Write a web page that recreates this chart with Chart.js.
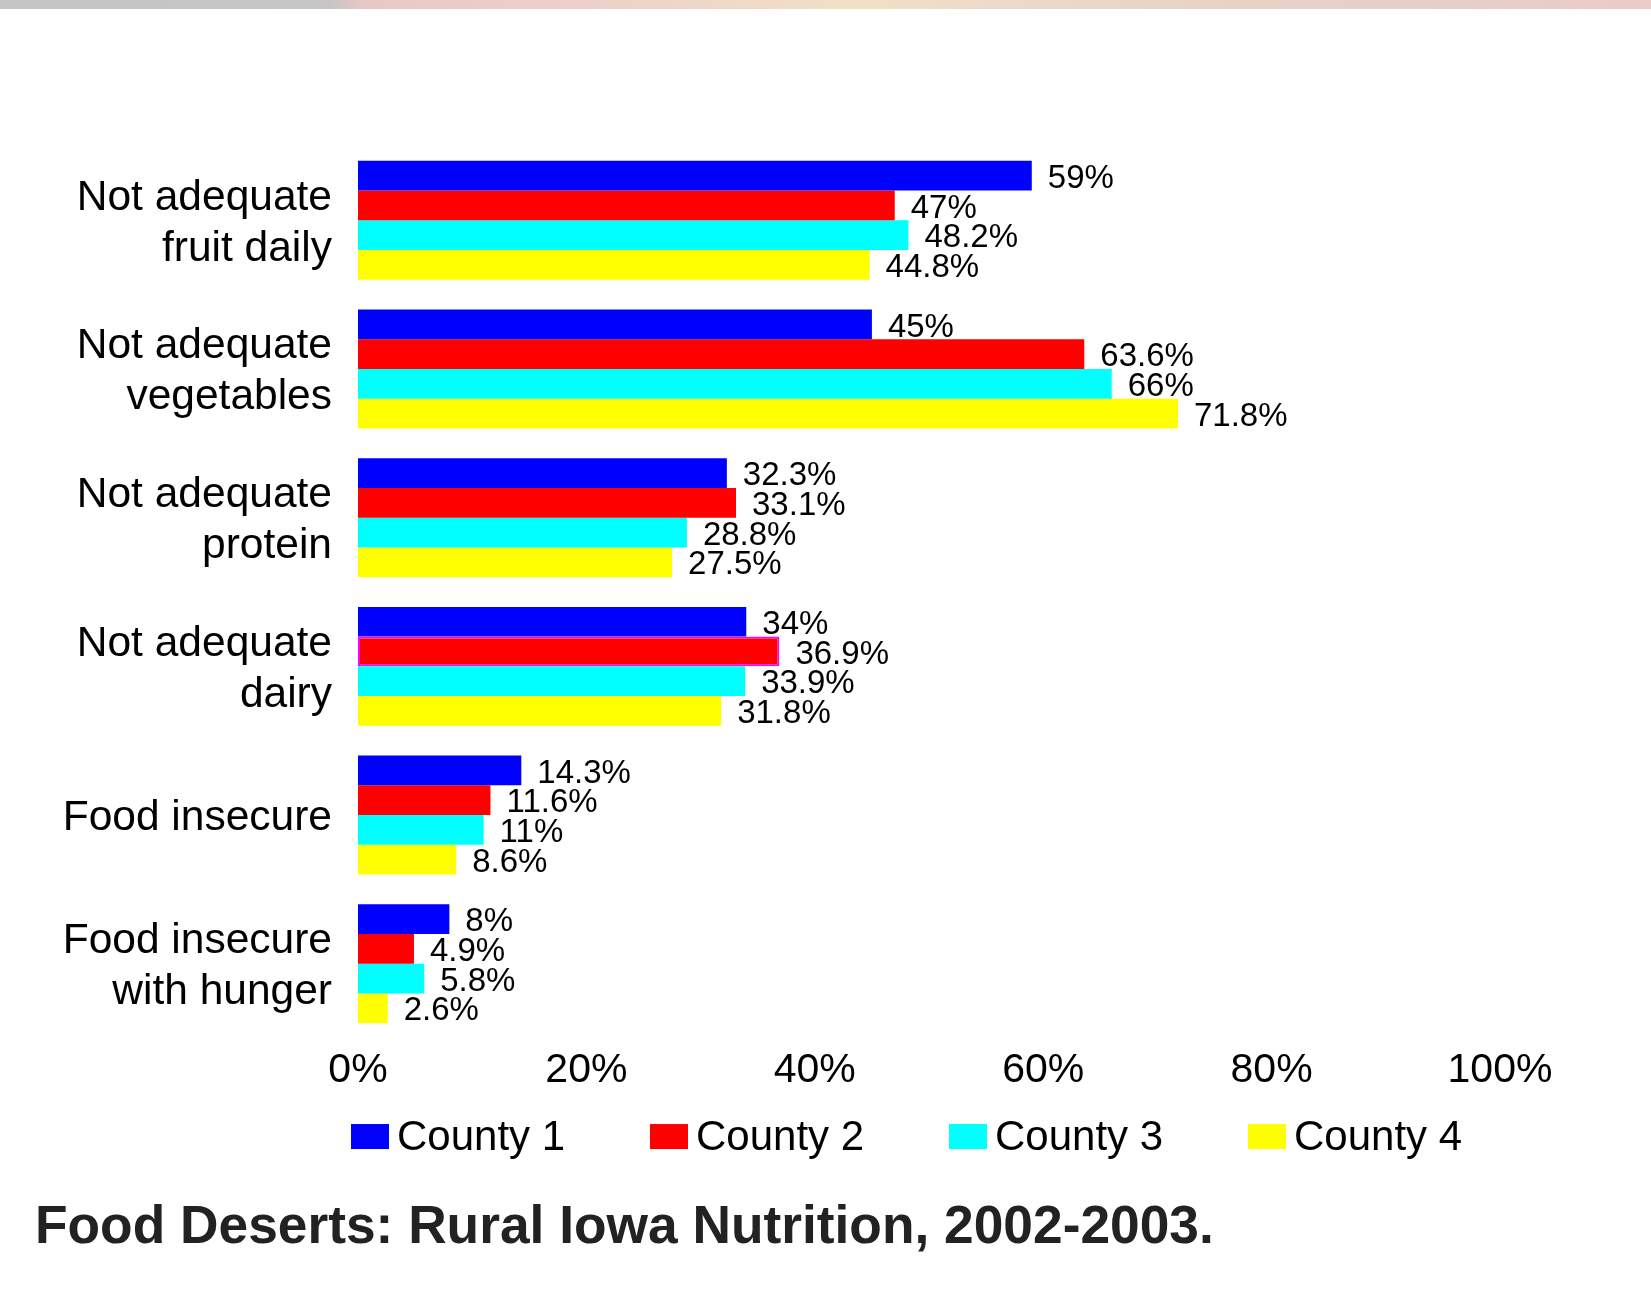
<!DOCTYPE html>
<html>
<head>
<meta charset="utf-8">
<style>
html,body{margin:0;padding:0;background:#ffffff;}
#wrap{position:relative;width:1651px;height:1289px;overflow:hidden;}
#strip{position:absolute;left:0;top:0;width:1651px;height:9px;
background:linear-gradient(to right,#c5c5c5 0%,#c7c6c5 20%,#e8c8c4 22%,#eed3c9 38%,#f1e0c6 52%,#ecd9cb 62%,#e8d2c6 75%,#e6cfc6 88%,#ebccc6 100%);}
canvas{position:absolute;left:0;top:0;}
</style>
<script src="https://cdn.jsdelivr.net/npm/chart.js@4.4.1/dist/chart.umd.min.js"></script>
</head>
<body>
<div id="wrap"><div id="strip"></div><canvas id="c" width="1651" height="1289"></canvas></div>
<script>
const categories = [
  ["Not adequate", "fruit daily"],
  ["Not adequate", "vegetables"],
  ["Not adequate", "protein"],
  ["Not adequate", "dairy"],
  "Food insecure",
  ["Food insecure", "with hunger"]
];
const seriesNames = ["County 1", "County 2", "County 3", "County 4"];
const county1 = [59, 45, 32.3, 34, 14.3, 8];
const county2 = [47, 63.6, 33.1, 36.9, 11.6, 4.9];
const county3 = [48.2, 66, 28.8, 33.9, 11, 5.8];
const county4 = [44.8, 71.8, 27.5, 31.8, 8.6, 2.6];
const xTickValues = [0, 20, 40, 60, 80, 100];
const titleText = "Food Deserts: Rural Iowa Nutrition, 2002-2003.";

const FONT = "'Liberation Sans', Arial, Helvetica, sans-serif";
const colors = ["#0000ff", "#ff0000", "#00ffff", "#ffff00"];
const seriesData = [county1, county2, county3, county4];

// value labels at the end of each bar (positions come from the bar elements)
const valueLabels = {
  id: 'valueLabels',
  afterDatasetsDraw(chart) {
    const ctx = chart.ctx;
    ctx.save();
    ctx.font = "33px " + FONT;
    ctx.fillStyle = "#000000";
    ctx.textAlign = "left";
    ctx.textBaseline = "middle";
    chart.data.datasets.forEach((ds, di) => {
      const meta = chart.getDatasetMeta(di);
      meta.data.forEach((bar, i) => {
        ctx.fillText(ds.data[i] + "%", bar.x + 16, bar.y + 3);
      });
    });
    ctx.restore();
  }
};

// legend row under the axis, laid out relative to the chart area
const legendRow = {
  id: 'legendRow',
  afterDraw(chart) {
    const o = chart.options.plugins.legendRow;
    const ctx = chart.ctx;
    const area = chart.chartArea;
    const cy = area.bottom + o.offsetY;
    ctx.save();
    ctx.font = o.fontSize + "px " + FONT;
    ctx.textAlign = "left";
    ctx.textBaseline = "middle";
    chart.data.datasets.forEach((ds, i) => {
      const x = area.left + o.offsetX + i * o.spacing;
      ctx.fillStyle = ds.backgroundColor;
      ctx.fillRect(x, cy - o.boxHeight / 2 - 1.5, o.boxWidth, o.boxHeight);
      ctx.fillStyle = "#000000";
      ctx.fillText(ds.label, x + o.boxWidth + o.gap, cy);
    });
    ctx.restore();
  }
};

const datasets = seriesNames.map((name, k) => {
  const ds = {
    label: name,
    data: seriesData[k],
    backgroundColor: colors[k],
    borderWidth: 0,
    categoryPercentage: 0.8,
    barPercentage: 1.0
  };
  if (k === 1) {
    ds.borderColor = (c) => (c.dataIndex === 3 ? "#ff00ff" : "rgba(0,0,0,0)");
    ds.borderWidth = (c) => (c.dataIndex === 3 ? 2 : 0);
    ds.borderSkipped = false;
  }
  return ds;
});

new Chart(document.getElementById('c'), {
  type: 'bar',
  data: { labels: categories, datasets: datasets },
  plugins: [valueLabels, legendRow],
  options: {
    indexAxis: 'y',
    responsive: false,
    animation: false,
    devicePixelRatio: 1,
    layout: { padding: { top: 146, left: 35, right: 151, bottom: 0 } },
    scales: {
      x: {
        min: 0, max: 100,
        afterBuildTicks: (scale) => { scale.ticks = xTickValues.map(v => ({ value: v })); },
        afterFit: (scale) => { scale.height = 100; },
        grid: { display: false, drawTicks: false },
        border: { display: false },
        ticks: {
          padding: 8,
          color: "#000000",
          font: { family: FONT, size: 41, lineHeight: 1.2 },
          maxRotation: 0,
          autoSkip: false,
          callback: (v) => v + "%"
        }
      },
      y: {
        afterFit: (scale) => { scale.width = 323; },
        grid: { display: false, drawTicks: false },
        border: { display: false },
        ticks: {
          padding: 26,
          labelOffset: 3,
          color: "#000000",
          font: { family: FONT, size: 42.5, lineHeight: 1.2 },
          autoSkip: false
        }
      }
    },
    plugins: {
      legend: { display: false },
      legendRow: { boxWidth: 38, boxHeight: 25, gap: 8, spacing: 299, offsetX: -7, offsetY: 100, fontSize: 42 },
      title: {
        display: true,
        text: titleText,
        position: 'bottom',
        align: 'start',
        color: "#222222",
        font: { family: FONT, size: 53.3, weight: 'bold', lineHeight: 1.2 },
        padding: { top: 58, bottom: 29 }
      },
      tooltip: { enabled: false }
    }
  }
});
</script>
</body>
</html>
